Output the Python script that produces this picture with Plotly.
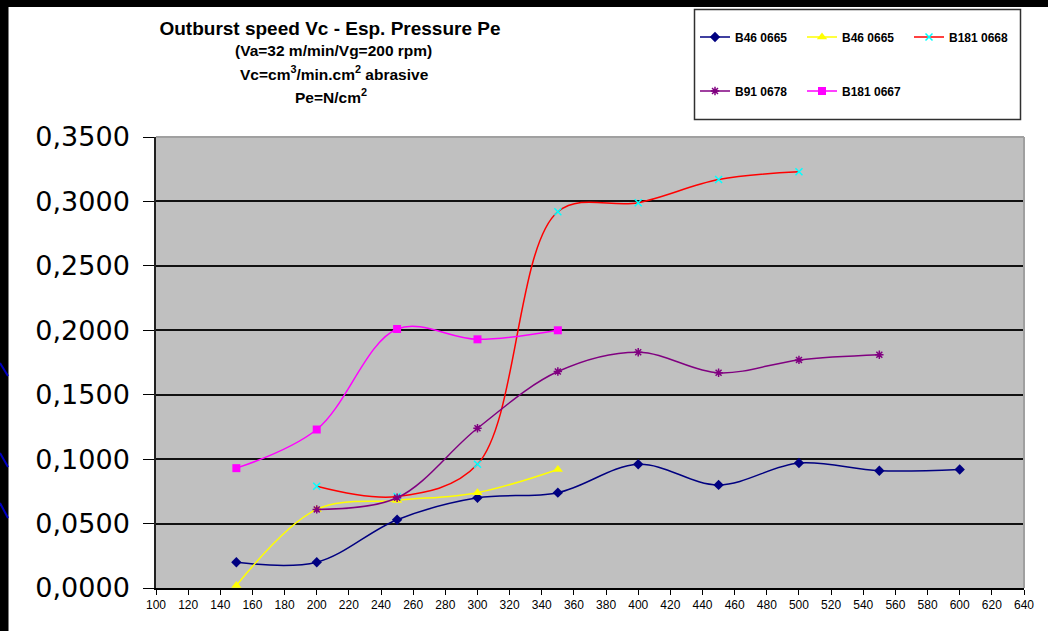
import plotly.graph_objects as go

# ---- data ----
pressure_a = [150, 200, 250, 300, 350, 400, 450, 500, 550, 600]
b46_0665_a = [0.020, 0.020, 0.053, 0.070, 0.074, 0.096, 0.080, 0.097, 0.091, 0.092]

pressure_b = [150, 200, 250, 300, 350]
b46_0665_b = [0.002, 0.061, 0.068, 0.074, 0.092]

pressure_c = [200, 250, 300, 350, 400, 450, 500]
b181_0668 = [0.079, 0.071, 0.096, 0.292, 0.299, 0.317, 0.323]

pressure_d = [200, 250, 300, 350, 400, 450, 500, 550]
b91_0678 = [0.061, 0.070, 0.124, 0.168, 0.183, 0.167, 0.177, 0.181]

pressure_e = [150, 200, 250, 300, 350]
b181_0667 = [0.093, 0.123, 0.201, 0.193, 0.200]

x_ticks = list(range(100, 641, 20))
y_ticks = [0, 0.05, 0.10, 0.15, 0.20, 0.25, 0.30, 0.35]

# ---- geometry (pixels) ----
W, H = 1048, 631
L, R, T, B = 156, 1024, 137, 588
PW, PH = R - L, B - T


def px(x):
    return (x - L) / PW


def py(y):
    return (B - y) / PH


fig = go.Figure()

fig.add_trace(go.Scatter(
    x=pressure_a, y=b46_0665_a, name="B46 0665", mode="lines+markers",
    line=dict(color="#000080", width=1.5, shape="spline", smoothing=1),
    marker=dict(symbol="diamond", size=8, color="#000080"), legend="legend"))
fig.add_trace(go.Scatter(
    x=pressure_b, y=b46_0665_b, name="B46 0665", mode="lines+markers",
    line=dict(color="#FFFF00", width=1.5, shape="spline", smoothing=1),
    marker=dict(symbol="triangle-up", size=9, color="#FFFF00"), legend="legend"))
fig.add_trace(go.Scatter(
    x=pressure_c, y=b181_0668, name="B181 0668", mode="lines+markers",
    line=dict(color="#FF0000", width=1.5, shape="spline", smoothing=1),
    marker=dict(symbol="x-thin", size=7, color="#00FFFF",
                line=dict(color="#00FFFF", width=1.5)), legend="legend"))
fig.add_trace(go.Scatter(
    x=pressure_d, y=b91_0678, name="B91 0678", mode="lines+markers",
    line=dict(color="#800080", width=1.5, shape="spline", smoothing=1),
    marker=dict(symbol="asterisk", size=7, color="#800080",
                line=dict(color="#800080", width=1.5)), legend="legend2"))
fig.add_trace(go.Scatter(
    x=pressure_e, y=b181_0667, name="B181 0667", mode="lines+markers",
    line=dict(color="#FF00FF", width=1.5, shape="spline", smoothing=1),
    marker=dict(symbol="square", size=8, color="#FF00FF"), legend="legend2"))

legend_font = dict(family="Liberation Sans, Arial", size=12, color="black", weight="bold")

shapes = [
    # dark frame strips of the slide
    dict(type="rect", xref="paper", yref="paper", x0=px(-2), x1=px(W + 2), y0=py(7), y1=py(-2),
         fillcolor="black", line=dict(width=0), layer="above"),
    dict(type="rect", xref="paper", yref="paper", x0=px(-4), x1=px(8), y0=py(H + 4), y1=py(-2),
         fillcolor="#000000", line=dict(color="#000000", width=1), layer="above"),
    dict(type="line", xref="paper", yref="paper", x0=px(0), x1=px(8), y0=py(363), y1=py(376),
         line=dict(color="#0000C0", width=2), layer="above"),
    dict(type="line", xref="paper", yref="paper", x0=px(0), x1=px(8), y0=py(453), y1=py(467),
         line=dict(color="#0000C0", width=2), layer="above"),
    dict(type="line", xref="paper", yref="paper", x0=px(0), x1=px(8), y0=py(503), y1=py(518),
         line=dict(color="#0000C0", width=2), layer="above"),
    # legend box
    dict(type="rect", xref="paper", yref="paper", x0=px(694.5), x1=px(1020.5), y0=py(119.5), y1=py(9.5),
         fillcolor="white", line=dict(color="#303030", width=1.5), layer="below"),
    # plot area border top / right
    dict(type="line", xref="paper", yref="paper", x0=0, x1=1, y0=1, y1=1,
         line=dict(color="#A0A0A0", width=2), layer="above"),
    dict(type="line", xref="paper", yref="paper", x0=1, x1=1, y0=0, y1=1,
         line=dict(color="#A0A0A0", width=2), layer="above"),
]

sub_font = dict(family="Liberation Sans, Arial", size=15.5, color="black", weight="bold")
annotations = [
    dict(text="(Va=32 m/min/Vg=200 rpm)", x=px(333), y=py(50), xref="paper", yref="paper",
         showarrow=False, font=sub_font, xanchor="center", yanchor="middle"),
    dict(text="Vc=cm<sup>3</sup>/min.cm<sup>2</sup> abrasive", x=px(334), y=py(73), xref="paper", yref="paper",
         showarrow=False, font=sub_font, xanchor="center", yanchor="middle"),
    dict(text="Pe=N/cm<sup>2</sup>", x=px(331), y=py(96), xref="paper", yref="paper",
         showarrow=False, font=sub_font, xanchor="center", yanchor="middle"),
]

fig.update_layout(
    width=W, height=H,
    margin=dict(l=L, r=W - R, t=T, b=H - B, pad=0),
    paper_bgcolor="white",
    plot_bgcolor="#C0C0C0",
    separators=",.",
    title=dict(text="Outburst speed Vc - Esp. Pressure Pe", x=330 / W, xanchor="center",
               y=1 - 28 / H, yanchor="middle", xref="container", yref="container",
               font=dict(family="Liberation Sans, Arial", size=19, color="black", weight="bold")),
    legend=dict(orientation="h", x=px(695), y=py(22.5), xanchor="left", yanchor="top",
                bgcolor="rgba(0,0,0,0)", borderwidth=0, font=legend_font,
                entrywidth=62, entrywidthmode="pixels", itemwidth=30),
    legend2=dict(orientation="h", x=px(695), y=py(76.5), xanchor="left", yanchor="top",
                 bgcolor="rgba(0,0,0,0)", borderwidth=0, font=legend_font,
                 entrywidth=62, entrywidthmode="pixels", itemwidth=30),
    shapes=shapes,
    annotations=annotations,
    xaxis=dict(range=[100, 640], tickmode="array", tickvals=x_ticks,
               ticks="outside", ticklen=5, tickcolor="black", tickwidth=1,
               showline=True, linecolor="black", linewidth=1.5,
               showgrid=False, zeroline=False,
               tickfont=dict(family="Liberation Sans, Arial", size=12, color="black")),
    yaxis=dict(range=[0, 0.35], tickmode="array", tickvals=y_ticks, tickformat=".4f",
               ticks="outside", ticklen=11, tickcolor="black", tickwidth=1.2,
               ticklabelstandoff=8,
               showline=True, linecolor="#202020", linewidth=1.5,
               showgrid=True, gridcolor="#111111", gridwidth=1.6, zeroline=False,
               tickfont=dict(family="DejaVu Sans, Arial", size=27, color="black")),
)

fig.write_html("out.html", config={"displayModeBar": False},
               post_script="document.body.style.margin='0';document.body.style.background='white';")
